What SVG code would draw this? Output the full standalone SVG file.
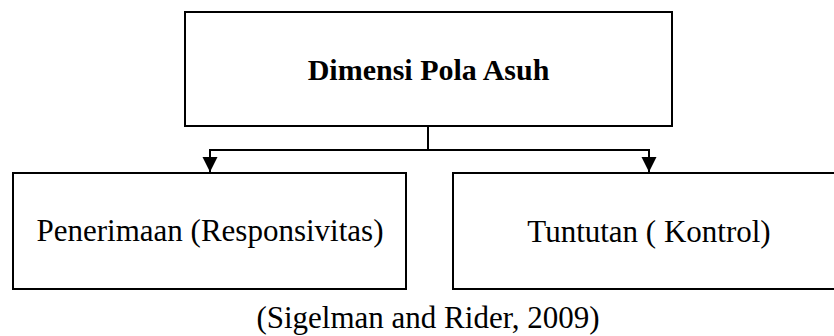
<svg xmlns="http://www.w3.org/2000/svg" width="834" height="336" viewBox="0 0 834 336">
<defs>
<style>
.box{fill:#fff;stroke:#000;stroke-width:2}
.ln{fill:none;stroke:#000;stroke-width:2}
.t{font-family:"Liberation Serif","Times New Roman",serif;font-size:31px;fill:#000;text-anchor:middle}
.b{font-weight:bold;font-size:30px}
</style>
<marker id="ah" markerUnits="userSpaceOnUse" markerWidth="16" markerHeight="16" viewBox="0 0 16 16" refX="15" refY="8" orient="auto">
<path d="M0,0.5 L15,8 L0,15.5 Z" fill="#000"/>
</marker>
</defs>
<rect width="834" height="336" fill="#fff"/>
<g id="connectors">
<path class="ln" d="M428,126 V150"/>
<path class="ln" d="M209,150 H650"/>
<path class="ln" d="M210,150 V172" marker-end="url(#ah)"/>
<path class="ln" d="M649,150 V172" marker-end="url(#ah)"/>
</g>
<g id="node-top">
<rect class="box" x="185" y="12" width="487" height="114"/>
<text class="t b" x="428.5" y="80">Dimensi Pola Asuh</text>
</g>
<g id="node-left">
<rect class="box" x="13" y="173" width="393" height="116"/>
<text class="t" x="210" y="241">Penerimaan (Responsivitas)</text>
</g>
<g id="node-right">
<rect class="box" x="453" y="173" width="393" height="116"/>
<text class="t" x="649" y="242">Tuntutan ( Kontrol)</text>
</g>
<g id="caption">
<text class="t" x="428" y="328">(Sigelman and Rider, 2009)</text>
</g>
</svg>
